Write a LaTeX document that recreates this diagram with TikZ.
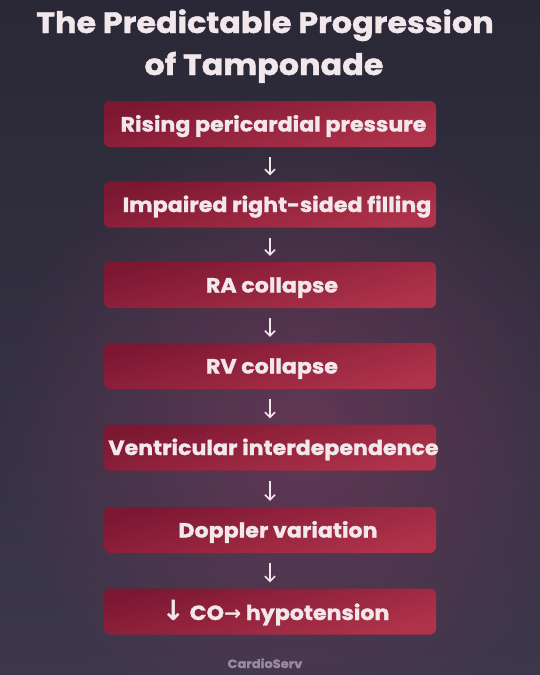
\documentclass[tikz,border=0pt]{standalone}
\usepackage{fontspec}
\setmainfont{Poppins}[BoldFeatures={FakeBold=1.3, FakeStretch=1.08}]
\newfontfamily\arrowfont{DejaVu Sans}
\usetikzlibrary{arrows.meta,fadings}

\definecolor{bgtop}{HTML}{2A2836}
\definecolor{bgbot}{HTML}{3C374B}
\definecolor{glowc}{HTML}{7A3A5E}
\definecolor{boxa}{HTML}{7C1732}
\definecolor{boxb}{HTML}{B0334B}
\definecolor{txt}{HTML}{F2E8EC}
\definecolor{brand}{HTML}{9A8A9E}

\tikzfading[name=glowfade, inner color=transparent!35, outer color=transparent!100]

\tikzset{
  stepbox/.style={minimum width=332pt, minimum height=46pt, rounded corners=6pt,
    inner sep=0pt, top color=boxa, bottom color=boxb, shading angle=15},
  boxlabel/.style={text=txt, font=\bfseries\fontsize{20.5}{24}\selectfont, anchor=base, inner sep=0pt},
  titletext/.style={text=txt, font=\bfseries\fontsize{29.5}{34}\selectfont, anchor=base, inner sep=0pt},
  conn/.style={draw=txt, line width=1.5pt, -{Straight Barb[length=5pt,width=10pt]},
    shorten <=10pt, shorten >=6pt},
}

\begin{document}
\begin{tikzpicture}[x=1pt,y=-1pt]
\useasboundingbox (0,0) rectangle (540,675);
\shade[top color=bgtop, bottom color=bgbot] (0,0) rectangle (540,675);
\fill[glowc, path fading=glowfade] (300,430) ellipse [x radius=300, y radius=330];

\node[titletext] (t1) at (265,33) {The Predictable Progression};
\node[titletext] (t2) at (264,75) {of Tamponade};

\node[stepbox] (b1) at (270,124) {};
\node[stepbox] (b2) at (270,204.5) {};
\node[stepbox] (b3) at (270,285) {};
\node[stepbox] (b4) at (270,366) {};
\node[stepbox] (b5) at (270,447.5) {};
\node[stepbox] (b6) at (270,530) {};
\node[stepbox] (b7) at (270,611.5) {};

\node[boxlabel] (l1) at (273.5,131.5) {Rising pericardial pressure};
\node[boxlabel] (l2) at (277,212) {Impaired right-sided filling};
\node[boxlabel] (l3) at (272,292.5) {RA collapse};
\node[boxlabel] (l4) at (272,373.5) {RV collapse};
\node[boxlabel] (l5) at (273.5,455) {Ventricular interdependence};
\node[boxlabel] (l6) at (278,537.5) {Doppler variation};
\node[boxlabel] (l7) at (275.5,620) {{\arrowfont\fontsize{28}{30}\selectfont ↓} CO{\arrowfont →} hypotension};

\draw[conn] (b1.south) -- (b2.north);
\draw[conn] (b2.south) -- (b3.north);
\draw[conn] (b3.south) -- (b4.north);
\draw[conn] (b4.south) -- (b5.north);
\draw[conn] (b5.south) -- (b6.north);
\draw[conn] (b6.south) -- (b7.north);

\node[text=brand, font=\bfseries\fontsize{12}{14}\selectfont, anchor=base, inner sep=0pt] (brand) at (265,668) {CardioServ};
\end{tikzpicture}
\end{document}
